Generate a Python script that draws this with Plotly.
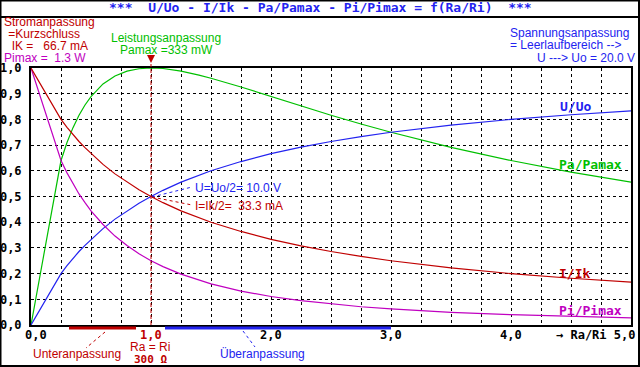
import plotly.graph_objects as go

# ---- data ----
ra_ri = [0, 0.25, 0.3, 0.35, 0.4, 0.45, 0.5, 0.6, 0.7, 0.8, 0.9, 1.0, 1.1, 1.25, 1.4, 1.5,
         1.75, 2.0, 2.25, 2.5, 2.75, 3.0, 3.5, 4.0, 4.5, 5.0]
u_uo = [0, 0.200, 0.231, 0.259, 0.286, 0.310, 0.333, 0.375, 0.412, 0.444, 0.474, 0.500, 0.524,
        0.556, 0.583, 0.600, 0.636, 0.667, 0.692, 0.714, 0.733, 0.750, 0.778, 0.800, 0.818, 0.833]
i_ik = [1, 0.800, 0.769, 0.741, 0.714, 0.690, 0.667, 0.625, 0.588, 0.556, 0.526, 0.500, 0.476,
        0.444, 0.417, 0.400, 0.364, 0.333, 0.308, 0.286, 0.267, 0.250, 0.222, 0.200, 0.182, 0.167]
pa_pamax = [0, 0.640, 0.710, 0.768, 0.816, 0.856, 0.889, 0.938, 0.969, 0.988, 0.997, 1.000, 0.998,
            0.988, 0.972, 0.960, 0.926, 0.889, 0.852, 0.816, 0.782, 0.750, 0.691, 0.640, 0.595, 0.556]
pi_pimax = [1, 0.640, 0.592, 0.549, 0.510, 0.476, 0.444, 0.391, 0.346, 0.309, 0.277, 0.250, 0.227,
            0.198, 0.174, 0.160, 0.132, 0.111, 0.095, 0.082, 0.071, 0.063, 0.049, 0.040, 0.033, 0.028]

y_ticks = [0, 0.1, 0.2, 0.3, 0.4, 0.5, 0.6, 0.7, 0.8, 0.9, 1.0]
y_tick_labels = ["0,0", "0,1", "0,2", "0,3", "0,4", "0,5", "0,6", "0,7", "0,8", "0,9", "1,0"]
x_tick_vals = [0, 1, 2, 3, 4]
x_tick_labels = ["0,0", "1,0", "2,0", "3,0", "4,0"]

BLUE = "#2323f0"
GREEN = "#00c000"
RED = "#c00000"
MAG = "#c000c0"
MONO = "DejaVu Sans Mono"
SANS = "Liberation Sans"

W, H = 640, 367
L, R, T, B = 31, 631, 68, 325


def px(x):
    return (x - L) / (R - L)


def py(y):
    return (B - y) / (B - T)


fig = go.Figure()
for ys, col in [(pa_pamax, GREEN), (u_uo, BLUE), (pi_pimax, MAG), (i_ik, RED)]:
    fig.add_trace(go.Scatter(x=ra_ri, y=ys, mode="lines", line=dict(color=col, width=1.2),
                             hoverinfo="skip", showlegend=False))

ann = []


def txt(x, y, s, col, size=12, font=SANS, xa="left", bold=False):
    if bold:
        s = "<b>" + s + "</b>"
    ann.append(dict(x=px(x), y=py(y), xref="paper", yref="paper", text=s, showarrow=False,
                    xanchor=xa, yanchor="middle", borderpad=0,
                    font=dict(color=col, size=size, family=font)))


# title
txt(320, 8, "***  U/Uo - I/Ik - Pa/Pamax - Pi/Pimax = f(Ra/Ri)  ***", BLUE, 13, MONO, "center", True)
# top-left
txt(3, 22, "Stromanpassung", RED)
txt(4, 34, " =Kurzschluss", RED)
txt(4, 46, "  IK =   66.7 mA", RED)
txt(3, 58, "Pimax =  1.3 W", MAG)
# top centre
txt(166, 38, "Leistungsanpassung", GREEN, xa="center")
txt(166, 50, "Pamax =333 mW", GREEN, xa="center")
# top right
txt(509, 33, "Spannungsanpassung", BLUE)
txt(509, 45, "= Leerlaufbereich -->", BLUE)
txt(636, 58, "U ---> Uo = 20.0 V", BLUE, xa="right")
# curve labels
txt(559, 106, "U/Uo", BLUE, 13, MONO, bold=True)
txt(558, 164, "Pa/Pamax", GREEN, 13, MONO, bold=True)
txt(558, 273, "I/Ik", RED, 13, MONO, bold=True)
txt(558, 310, "Pi/Pimax", MAG, 13, MONO, bold=True)
# middle
txt(194, 188, "U=Uo/2= 10.0 V", BLUE)
txt(194, 206, "I=Ik/2=  33.3 mA", RED)
# bottom
txt(77, 354, "Unteranpassung", RED, xa="center")
txt(150, 347, "Ra = Ri", RED, xa="center")
txt(150, 359, "300 Ω", RED, 11, MONO, "center", True)
txt(262, 354, "Überanpassung", BLUE, xa="center")
for v, lab in zip(x_tick_vals, x_tick_labels):
    txt(31 + 120 * v + (5 if v == 0 else 0), 335, lab, RED if v == 1 else "#000000", 12, MONO, "center", True)
txt(636, 335, "→ Ra/Ri 5,0", "#000000", 12, MONO, "right", True)

# arrow over Ra=Ri
ann.append(dict(x=1, y=py(63), xref="x", yref="paper", ax=0, ay=-8, text="", showarrow=True,
                arrowhead=2, arrowsize=0.8, arrowwidth=2, arrowcolor=RED))

shapes = []


def seg(x0, y0, x1, y1, col, w=1, dash="solid"):
    shapes.append(dict(type="line", xref="paper", yref="paper", x0=px(x0), y0=py(y0), x1=px(x1),
                       y1=py(y1), line=dict(color=col, width=w, dash=dash)))


# outer frame & title separator
shapes.append(dict(type="rect", xref="paper", yref="paper", x0=px(0.5), y0=py(366), x1=px(639),
                   y1=py(0.5), line=dict(color="#000000", width=2)))
seg(0, 17, 640, 17, "#000000", 2)
# vertical matching line
shapes.append(dict(type="line", xref="x", yref="paper", x0=1, x1=1, y0=0, y1=py(64),
                   line=dict(color=RED, width=1, dash="4px,2px")))
# bars below axis
seg(69, 328, 136, 328, RED, 3)
seg(165, 328, 391, 328, BLUE, 3)
# pointer dotted lines
seg(105, 332, 86, 348, RED, 1, "dot")
seg(243, 331, 255, 347, BLUE, 1, "dot")
seg(152, 197, 192, 187, BLUE, 1, "dot")
seg(152, 197, 192, 205, RED, 1, "dot")

fig.update_layout(
    width=W, height=H, margin=dict(l=L, r=W - R, t=T, b=H - B, autoexpand=False),
    paper_bgcolor="white", plot_bgcolor="white",
    annotations=ann, shapes=shapes,
    xaxis=dict(range=[0, 5], dtick=0.25, tick0=0, showticklabels=False, ticks="",
               showgrid=True, gridcolor="#000000", griddash="dot", gridwidth=1,
               showline=True, mirror=True, linecolor="#000000", linewidth=2, zeroline=False,
               fixedrange=True, automargin=False),
    yaxis=dict(range=[0, 1], tickvals=y_ticks, ticktext=["<b>" + t + "</b>" for t in y_tick_labels],
               tickfont=dict(family=MONO, size=12, color="#000000"), ticks="", ticklabelstandoff=5,
               showgrid=True, gridcolor="#000000", griddash="dot", gridwidth=1,
               showline=True, mirror=True, linecolor="#000000", linewidth=2, zeroline=False,
               fixedrange=True, automargin=False),
)

fig.write_html("out.html", config={"displayModeBar": False},
               post_script="document.body.style.margin='0';document.body.style.overflow='hidden';")
